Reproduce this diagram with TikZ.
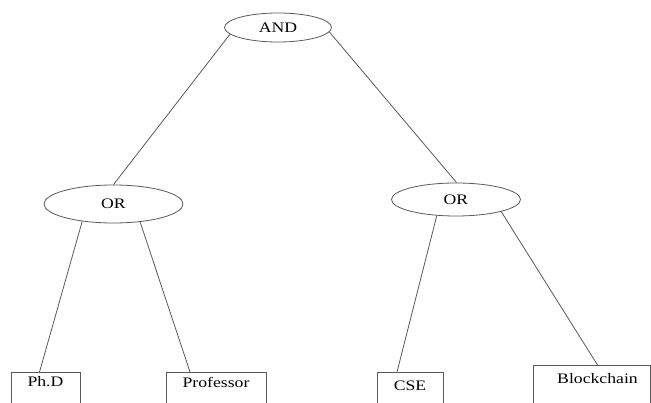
\documentclass[tikz,border=0pt]{standalone}
\usepackage{fontspec}
\setmainfont{Liberation Serif}[FakeStretch=1.22]
\usetikzlibrary{shapes.geometric,calc}
\begin{document}
\begin{tikzpicture}[x=1pt,y=-1pt,
  line/.style={draw=black!65, line width=0.8pt},
  gate/.style={ellipse, line, inner sep=0pt, font=\fontsize{14.5}{16}\selectfont},
  leaf/.style={rectangle, line, anchor=north, inner xsep=0pt,
               text height=10pt, text depth=40pt, font=\fontsize{14.5}{16}\selectfont}]
\clip (0,0) rectangle (651,403);
% gates
\node[gate, minimum width=107pt, minimum height=29pt] (and) at (278,27.5) {AND};
\node[gate, minimum width=139pt, minimum height=38pt] (orl) at (113.5,204) {OR};
\node[gate, minimum width=129pt, minimum height=33pt] (orr) at (456,199.5) {OR};
% leaves (bottoms run off the page)
\node[leaf, minimum width=69pt, inner ysep=4.2pt] (phd) at (45.5,372) {Ph.D};
\node[leaf, minimum width=100pt, inner ysep=5.2pt] (prof) at (216,372) {Professor};
\node[leaf, minimum width=66pt, inner ysep=8.2pt] (cse) at (410,372) {CSE};
\node[leaf, minimum width=117pt, inner ysep=8.2pt] (bc) at (591.5,365) {\hspace*{12pt}Blockchain};
% connectors
\draw[line] (and.188) -- (orl.90);
\draw[line] (and.355) -- (orr.88);
\draw[line] (orl.209) -- ($(phd.north)+(-6,0)$);
\draw[line] (orl.326) -- ($(prof.north)+(-26,0)$);
\draw[line] (orr.220) -- ($(cse.north)+(-13,0)$);
\draw[line] (orr.345) -- ($(bc.north)+(6,0)$);
\end{tikzpicture}
\end{document}
